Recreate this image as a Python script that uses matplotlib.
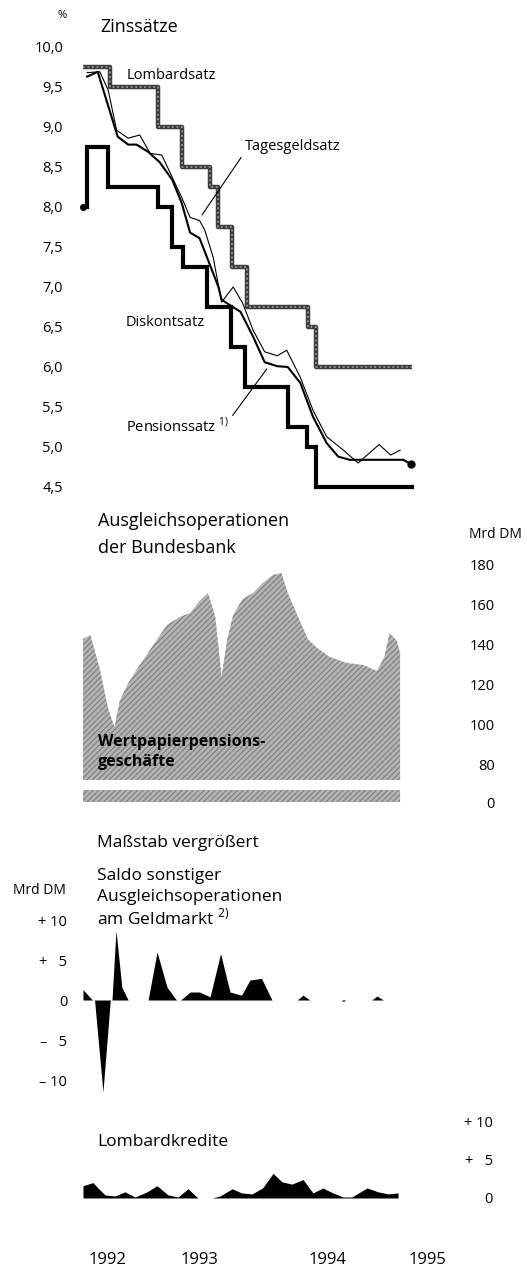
import matplotlib
matplotlib.use('Agg')
import matplotlib.pyplot as plt

plt.rcParams['font.family'] = ['Open Sans', 'DejaVu Sans']
plt.rcParams['mathtext.fontset'] = 'custom'
plt.rcParams['mathtext.rm'] = 'Open Sans'
plt.rcParams['hatch.linewidth'] = 0.8

# x values: months since Jan 1992 (6.0 = July 1992)
# --- Zinssaetze (step series: change dates / rates)
lombard_m = [6.0, 8.55, 13.1, 15.45, 18.1, 18.9, 20.2, 21.6, 27.45, 28.2, 37.3]
lombard_v = [9.75, 9.5, 9.0, 8.5, 8.25, 7.75, 7.25, 6.75, 6.5, 6.0, 6.0]

diskont_m = [6.0, 6.4, 8.4, 13.1, 14.5, 15.5, 17.85, 20.1, 21.4, 25.5, 27.3, 28.2, 37.3]
diskont_v = [8.0, 8.75, 8.25, 8.0, 7.5, 7.25, 6.75, 6.25, 5.75, 5.25, 5.0, 4.5, 4.5]

pension_m = [6.4, 7.4, 9.3, 10.3, 11.1, 12.2, 13.3, 14.5, 15.4, 16.2, 17.1, 17.9,
             18.9, 19.2, 21.0, 22.2, 23.3, 24.5, 25.5, 26.7, 27.9, 29.2, 30.3,
             31.4, 36.5, 37.2]
pension_v = [9.63, 9.69, 8.88, 8.78, 8.78, 8.69, 8.56, 8.34, 8.05, 7.68, 7.61, 7.34,
             7.0, 6.84, 6.69, 6.38, 6.06, 6.01, 6.0, 5.8, 5.38, 5.05, 4.88,
             4.84, 4.84, 4.79]

tages_m = [6.4, 7.6, 8.4, 9.2, 10.3, 11.4, 12.4, 13.5, 14.5, 15.4, 16.2, 17.1, 17.6,
           18.4, 19.2, 20.3, 21.2, 22.2, 23.3, 24.5, 25.4, 26.7, 27.9, 29.2, 30.8,
           32.2, 34.2, 35.3, 36.2]
tages_v = [9.68, 9.69, 9.46, 8.96, 8.86, 8.9, 8.67, 8.65, 8.37, 8.12, 7.87, 7.83, 7.71,
           7.37, 6.81, 7.0, 6.8, 6.46, 6.19, 6.14, 6.21, 5.87, 5.46, 5.13, 4.96,
           4.8, 5.03, 4.9, 4.96]

# --- Wertpapierpensionsgeschaefte (Mrd DM)
ops_m = [6.0, 6.7, 7.6, 8.4, 9.0, 9.5, 10.2, 11.4, 12.7, 14.0, 15.2, 16.2, 17.1, 17.9,
         18.6, 19.2, 19.7, 20.3, 21.2, 22.2, 23.1, 24.1, 24.9, 25.5, 26.4, 27.4,
         28.4, 29.5, 31.1, 32.7, 34.0, 34.7, 35.2, 35.9, 36.2]
ops_v = [143, 145, 128, 108, 99, 112, 120, 130, 140, 150, 154, 156, 162, 166,
         154, 124, 142, 155, 163, 166, 171, 175, 176, 166, 155, 143,
         138, 134, 131, 130, 127, 134, 146, 142, 136]

# --- Saldo sonstiger Ausgleichsoperationen (Mrd DM)
saldo_m = [6.0, 6.9, 7.1, 7.9, 8.6, 8.76, 9.14, 9.7, 10.3, 12.2, 13.05, 14.0, 14.9,
           15.3, 16.2, 17.1, 18.1, 19.1, 20.0, 21.1, 21.9, 23.0, 24.0, 26.4, 26.95,
           27.6, 30.6, 30.8, 31.0, 33.5, 34.0, 34.6, 36.2]
saldo_v = [1.3, 0, 0, -11.5, 0, 0, 8.7, 1.6, 0, 0, 6.0, 1.6, 0,
           0, 1.0, 1.0, 0.4, 5.8, 1.0, 0.6, 2.5, 2.7, 0, 0, 0.6,
           0, 0, -0.2, 0, 0, 0.5, 0, 0]

# --- Lombardkredite (Mrd DM)
lomb_m = [6.0, 6.95, 7.43, 8.1, 9.05, 10.0, 10.95, 12.1, 13.05, 14.1, 15.05, 16.0,
          16.95, 18.3, 19.05, 20.2, 21.1, 22.1, 23.1, 24.1, 24.95, 25.9, 26.95,
          27.9, 28.85, 29.8, 30.76, 31.6, 33.05, 34.1, 35.05, 36.0]
lomb_v = [1.6, 2.0, 1.3, 0.4, 0.26, 0.8, 0.13, 0.8, 1.6, 0.4, 0.13, 1.2,
          0, 0, 0.26, 1.2, 0.66, 0.53, 1.3, 3.2, 2.1, 1.8, 2.4,
          0.66, 1.3, 0.66, 0.13, 0.13, 1.3, 0.8, 0.53, 0.66]

year_pos = [8.3, 17.1, 29.3, 38.8]
year_labels = ['1992', '1993', '1994', '1995']

zins_ticks = [4.5, 5.0, 5.5, 6.0, 6.5, 7.0, 7.5, 8.0, 8.5, 9.0, 9.5, 10.0]
ops_ticks = [80, 100, 120, 140, 160, 180]
saldo_ticks = [-10, -5, 0, 5, 10]
saldo_labels = ['\u2013 10', '\u2013   5', '0', '+   5', '+ 10']
lomb_ticks = [0, 5, 10]
lomb_labels = ['0', '+   5', '+ 10']

W, H = 527, 1267
X0, X1 = 4.762, 40.476
fig = plt.figure(figsize=(W / 100, H / 100), dpi=100)


def add_ax(left, top, right, bottom):
    ax = fig.add_axes([left / W, 1 - bottom / H, (right - left) / W, (bottom - top) / H])
    for s in ax.spines.values():
        s.set_visible(False)
    ax.set_xlim(X0, X1)
    ax.set_xticks([])
    ax.tick_params(length=0)
    ax.patch.set_alpha(0)
    return ax


def ftext(x, y, s, **kw):
    kw.setdefault('va', 'center')
    kw.setdefault('ha', 'left')
    fig.text(x / W, 1 - y / H, s, **kw)


# ---------- Zinssaetze
ax1 = add_ax(70, 30, 445, 495)
ax1.set_ylim(4.4, 10.2125)
ax1.plot(lombard_m, lombard_v, drawstyle='steps-post', color='#3c3c3c', lw=3.2,
         solid_capstyle='butt')
ax1.plot(lombard_m, lombard_v, drawstyle='steps-post', color='#9a9a9a', lw=1.3,
         ls=(0, (1, 1.5)))
ax1.plot(diskont_m, diskont_v, drawstyle='steps-post', color='black', lw=3.0,
         marker='o', markersize=4, markevery=[0], solid_joinstyle='miter')
ax1.plot(pension_m, pension_v, color='black', lw=1.5, marker='o', markersize=5,
         markevery=[-1])
ax1.plot(tages_m, tages_v, color='black', lw=0.8)
ax1.set_yticks(zins_ticks)
ax1.set_yticklabels([f'{v:.1f}'.replace('.', ',') for v in zins_ticks], fontsize=10.5)
ax1.tick_params(axis='y', pad=5)

ax1.text(10.2, 9.64, 'Lombardsatz', fontsize=10.5, va='center')
ax1.text(10.1, 6.56, 'Diskontsatz', fontsize=10.5, va='center')
ax1.annotate('Tagesgeldsatz', xy=(17.33, 7.9), xytext=(21.4, 8.76), fontsize=10.5,
             va='center', ha='left',
             arrowprops=dict(arrowstyle='-', lw=0.8, color='black', relpos=(0, 0.1),
                             shrinkA=1, shrinkB=0))
ax1.annotate('Pensionssatz $^{1)}$', xy=(23.5, 5.975), xytext=(10.1, 5.26), fontsize=10.5,
             va='center', ha='left',
             arrowprops=dict(arrowstyle='-', lw=0.8, color='black', relpos=(1, 0.8),
                             shrinkA=1, shrinkB=0))

ftext(62, 16, '%', ha='center', fontsize=8)
ftext(100, 27, 'Zinss\u00e4tze', fontsize=13)

# ---------- Ausgleichsoperationen der Bundesbank
ax2 = add_ax(70, 555, 445, 780)
ax2.set_ylim(72.5, 185)
ax2.fill_between(ops_m, 0, ops_v, facecolor='#b4b4b4', edgecolor='#7c7c7c',
                 hatch='//////', linewidth=0)
ax2.yaxis.tick_right()
ax2.set_yticks(ops_ticks)
ax2.set_yticklabels([str(v) for v in ops_ticks], fontsize=10.5)
ax2.tick_params(axis='y', pad=36)
for lab in ax2.get_yticklabels():
    lab.set_ha('right')

ax2b = add_ax(70, 790, 445, 802)
ax2b.set_ylim(0, 12)
ax2b.fill_between(ops_m, 0, ops_v, facecolor='#b4b4b4', edgecolor='#7c7c7c',
                  hatch='//////', linewidth=0)
ax2b.yaxis.tick_right()
ax2b.set_yticks([0])
ax2b.set_yticklabels(['0'], fontsize=10.5)
ax2b.tick_params(axis='y', pad=36)
for lab in ax2b.get_yticklabels():
    lab.set_ha('right')

ftext(98, 521, 'Ausgleichsoperationen', fontsize=13)
ftext(98, 548, 'der Bundesbank', fontsize=13)
ftext(522, 535, 'Mrd DM', ha='right', fontsize=10)
ftext(98, 742, 'Wertpapierpensions-', fontsize=11.5, fontweight='bold', zorder=5)
ftext(98, 762, 'gesch\u00e4fte', fontsize=11.5, fontweight='bold', zorder=5)

# ---------- Saldo sonstiger Ausgleichsoperationen
ax3 = add_ax(70, 915, 445, 1100)
ax3.set_ylim(-12.5, 10.625)
ax3.fill_between(saldo_m, 0, saldo_v, color='black', linewidth=0)
ax3.set_yticks(saldo_ticks)
ax3.set_yticklabels(saldo_labels, fontsize=10.5)
ax3.tick_params(axis='y', pad=2)

ftext(97, 843, 'Ma\u00dfstab vergr\u00f6\u00dfert', fontsize=12.5)
ftext(97, 876, 'Saldo sonstiger', fontsize=12.5)
ftext(97, 897, 'Ausgleichsoperationen', fontsize=12.5)
ftext(97, 918, 'am Geldmarkt $^{2)}$', fontsize=12.5)
ftext(13, 890, 'Mrd DM', fontsize=10)

# ---------- Lombardkredite
ax4 = add_ax(70, 1110, 445, 1210)
ax4.set_ylim(-1.56, 11.43)
ax4.fill_between(lomb_m, 0, lomb_v, color='black', linewidth=0)
ax4.yaxis.tick_right()
ax4.set_yticks(lomb_ticks)
ax4.set_yticklabels(lomb_labels, fontsize=10.5)
ax4.tick_params(axis='y', pad=34.5)
for lab in ax4.get_yticklabels():
    lab.set_ha('right')
ax4.set_xticks(year_pos)
ax4.set_xticklabels(year_labels, fontsize=12)
ax4.tick_params(axis='x', pad=30)

ftext(97, 1142, 'Lombardkredite', fontsize=12.5)

fig.savefig('out.png', dpi=100)
